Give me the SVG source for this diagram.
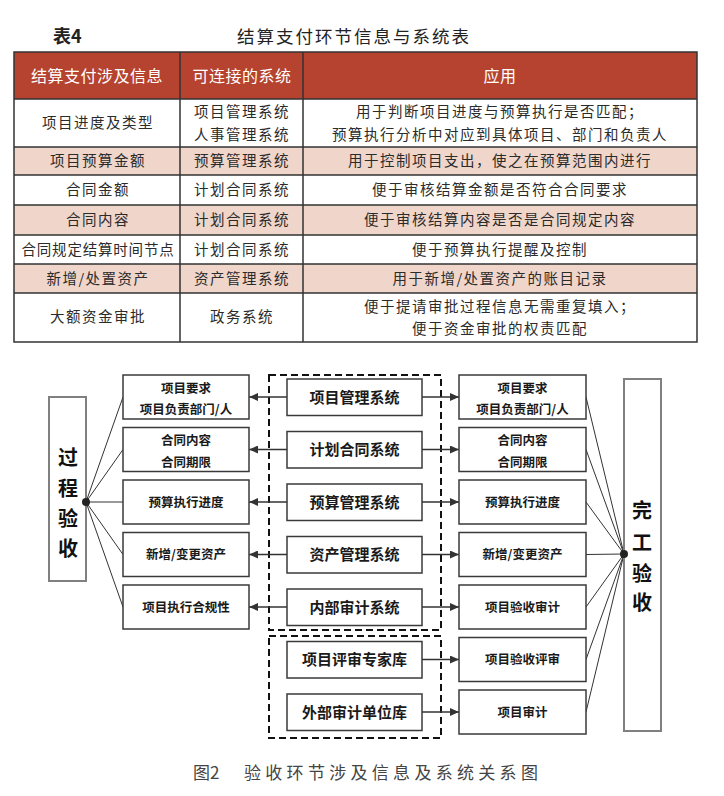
<svg xmlns="http://www.w3.org/2000/svg" width="724" height="796" viewBox="0 0 724 796">
<style>
text{font-family:"Noto Sans CJK SC","Noto Sans",sans-serif}
.cap{font-size:18px;fill:#222}
.th{font-size:16px;fill:#fff;text-anchor:middle;letter-spacing:0.5px}
.td{font-size:14.5px;fill:#2b2b2b;text-anchor:middle;letter-spacing:1.5px}
.grid{stroke:#333;stroke-width:1.5;fill:none}
.info rect{fill:#fff;stroke:#3a3a3a;stroke-width:1.5}
.info text{font-size:12.5px;font-weight:bold;fill:#1a1a1a;text-anchor:middle}
.sys rect{fill:#fff;stroke:#3a3a3a;stroke-width:1.5}
.sys text{font-size:15px;font-weight:bold;fill:#1a1a1a;text-anchor:middle}
.big rect{fill:#fff;stroke:#808080;stroke-width:2}
.big text{font-size:20px;font-weight:bold;fill:#111;text-anchor:middle}
.dash{fill:none;stroke:#111;stroke-width:2;stroke-dasharray:7,4}
.arr{stroke:#333;stroke-width:1.5;marker-end:url(#ah)}
.fan{stroke:#333;stroke-width:1;fill:none}
</style>
<defs>
<marker id="ah" markerUnits="userSpaceOnUse" markerWidth="9" markerHeight="8" refX="9" refY="4" orient="auto">
<path d="M0,0 L9,4 L0,8 z" fill="#333"/>
</marker>
</defs>
<rect width="724" height="796" fill="#fff"/>

<!-- Table -->
<g id="table">
<text x="53" y="43" class="cap" font-weight="bold">表4</text>
<text x="354" y="43" class="cap" text-anchor="middle" style="letter-spacing:2px;font-size:17.5px">结算支付环节信息与系统表</text>
<rect x="14" y="52" width="683" height="47" fill="#b5432f"/>
<rect x="14" y="147" width="683" height="28" fill="#efd5ca"/>
<rect x="14" y="205" width="683" height="30" fill="#efd5ca"/>
<rect x="14" y="264" width="683" height="29" fill="#efd5ca"/>
<rect x="14" y="52" width="683" height="290" class="grid"/>
<path class="grid" d="M180,52V342M303,52V342M14,99H697M14,147H697M14,175H697M14,205H697M14,235H697M14,264H697M14,293H697"/>
<text x="97" y="82" class="th">结算支付涉及信息</text>
<text x="242" y="82" class="th">可连接的系统</text>
<text x="500" y="82" class="th">应用</text>

<text x="98" y="128" class="td">项目进度及类型</text>
<text x="242" y="117" class="td">项目管理系统</text>
<text x="242" y="140" class="td">人事管理系统</text>
<text x="500" y="117" class="td">用于判断项目进度与预算执行是否匹配；</text>
<text x="500" y="140" class="td">预算执行分析中对应到具体项目、部门和负责人</text>

<text x="98" y="166" class="td">项目预算金额</text>
<text x="242" y="166" class="td">预算管理系统</text>
<text x="500" y="166" class="td">用于控制项目支出，使之在预算范围内进行</text>

<text x="98" y="195" class="td">合同金额</text>
<text x="242" y="195" class="td">计划合同系统</text>
<text x="500" y="195" class="td">便于审核结算金额是否符合合同要求</text>

<text x="98" y="225" class="td">合同内容</text>
<text x="242" y="225" class="td">计划合同系统</text>
<text x="500" y="225" class="td">便于审核结算内容是否是合同规定内容</text>

<text x="98" y="255" class="td" style="letter-spacing:0.8px">合同规定结算时间节点</text>
<text x="242" y="255" class="td">计划合同系统</text>
<text x="500" y="255" class="td">便于预算执行提醒及控制</text>

<text x="98" y="284" class="td">新增/处置资产</text>
<text x="242" y="284" class="td">资产管理系统</text>
<text x="500" y="284" class="td">用于新增/处置资产的账目记录</text>

<text x="98" y="322" class="td">大额资金审批</text>
<text x="242" y="322" class="td">政务系统</text>
<text x="500" y="312" class="td">便于提请审批过程信息无需重复填入；</text>
<text x="500" y="334" class="td">便于资金审批的权责匹配</text>
</g>

<!-- Diagram -->
<rect class="dash" x="269" y="375" width="172" height="255"/>
<rect class="dash" x="269" y="636" width="172" height="102"/>

<g id="connectors">
<path class="fan" d="M86,502L123,397M86,502L123,449.5M86,502L123,502M86,502L123,554.5M86,502L123,607"/>
<path class="fan" d="M624,554L586,397M624,554L586,449.5M624,554L586,502M624,554L586,554.5M624,554L586,607M624,554L586,659.5M624,554L586,712"/>
<line class="arr" x1="287" y1="397" x2="249" y2="397"/>
<line class="arr" x1="287" y1="449.5" x2="249" y2="449.5"/>
<line class="arr" x1="287" y1="502" x2="249" y2="502"/>
<line class="arr" x1="287" y1="554.5" x2="249" y2="554.5"/>
<line class="arr" x1="287" y1="607" x2="249" y2="607"/>
<line class="arr" x1="422" y1="397" x2="459" y2="397"/>
<line class="arr" x1="422" y1="449.5" x2="459" y2="449.5"/>
<line class="arr" x1="422" y1="502" x2="459" y2="502"/>
<line class="arr" x1="422" y1="554.5" x2="459" y2="554.5"/>
<line class="arr" x1="422" y1="607" x2="459" y2="607"/>
<line class="arr" x1="422" y1="659.5" x2="459" y2="659.5"/>
<line class="arr" x1="422" y1="712" x2="459" y2="712"/>
</g>

<g id="process" class="big">
<rect x="49" y="397" width="37" height="184"/>
<text x="68" y="465">过</text>
<text x="68" y="496">程</text>
<text x="68" y="526">验</text>
<text x="68" y="556">收</text>
</g>
<g id="completion" class="big">
<rect x="624" y="379" width="37" height="352"/>
<text x="642" y="518">完</text>
<text x="642" y="550">工</text>
<text x="642" y="581">验</text>
<text x="642" y="610">收</text>
</g>
<circle cx="86" cy="502" r="4" fill="#222"/>
<circle cx="624" cy="554" r="4" fill="#222"/>

<g id="L1" class="info"><rect x="123" y="375" width="126" height="44"/><text x="186" y="392.5">项目要求</text><text x="186" y="414">项目负责部门/人</text></g>
<g id="L2" class="info"><rect x="123" y="427.5" width="126" height="44"/><text x="186" y="445">合同内容</text><text x="186" y="466.5">合同期限</text></g>
<g id="L3" class="info"><rect x="123" y="480" width="126" height="44"/><text x="186" y="506.5">预算执行进度</text></g>
<g id="L4" class="info"><rect x="123" y="532.5" width="126" height="44"/><text x="186" y="559">新增/变更资产</text></g>
<g id="L5" class="info"><rect x="123" y="585" width="126" height="44"/><text x="186" y="611.5">项目执行合规性</text></g>

<g id="S1" class="sys"><rect x="287" y="379" width="135" height="36.5"/><text x="354.5" y="402.5">项目管理系统</text></g>
<g id="S2" class="sys"><rect x="287" y="431.5" width="135" height="36.5"/><text x="354.5" y="455">计划合同系统</text></g>
<g id="S3" class="sys"><rect x="287" y="484" width="135" height="36.5"/><text x="354.5" y="507.5">预算管理系统</text></g>
<g id="S4" class="sys"><rect x="287" y="536.5" width="135" height="36.5"/><text x="354.5" y="560">资产管理系统</text></g>
<g id="S5" class="sys"><rect x="287" y="589" width="135" height="36.5"/><text x="354.5" y="612.5">内部审计系统</text></g>
<g id="S6" class="sys"><rect x="287" y="641.5" width="135" height="36.5"/><text x="354.5" y="665">项目评审专家库</text></g>
<g id="S7" class="sys"><rect x="287" y="694" width="135" height="36.5"/><text x="354.5" y="717.5">外部审计单位库</text></g>

<g id="R1" class="info"><rect x="459" y="375" width="127" height="44"/><text x="522.5" y="392.5">项目要求</text><text x="522.5" y="414">项目负责部门/人</text></g>
<g id="R2" class="info"><rect x="459" y="427.5" width="127" height="44"/><text x="522.5" y="445">合同内容</text><text x="522.5" y="466.5">合同期限</text></g>
<g id="R3" class="info"><rect x="459" y="480" width="127" height="44"/><text x="522.5" y="506.5">预算执行进度</text></g>
<g id="R4" class="info"><rect x="459" y="532.5" width="127" height="44"/><text x="522.5" y="559">新增/变更资产</text></g>
<g id="R5" class="info"><rect x="459" y="585" width="127" height="44"/><text x="522.5" y="611.5">项目验收审计</text></g>
<g id="R6" class="info"><rect x="459" y="637.5" width="127" height="44"/><text x="522.5" y="664">项目验收评审</text></g>
<g id="R7" class="info"><rect x="459" y="690" width="127" height="44"/><text x="522.5" y="716.5">项目审计</text></g>

<g id="caption">
<text x="193" y="779" style="font-size:17px;fill:#444">图2</text>
<text x="244" y="779" style="font-size:17px;fill:#444;letter-spacing:4.3px">验收环节涉及信息及系统关系图</text>
</g>
</svg>
